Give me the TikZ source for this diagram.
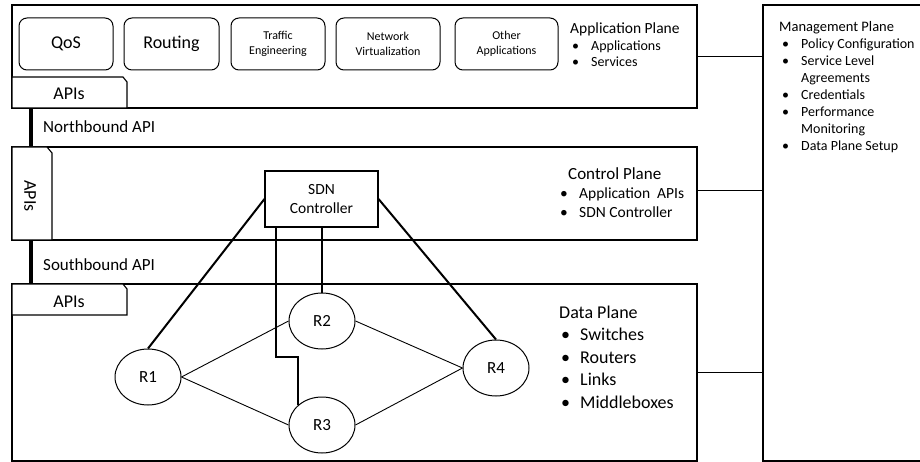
\documentclass[tikz,border=0pt]{standalone}
\usepackage{fontspec}
\setmainfont{Carlito}
\usetikzlibrary{calc}
\tikzset{
  plane/.style={draw, line width=1.3pt, inner sep=0pt, outer sep=0pt, anchor=north west, fill=white},
  appbox/.style={draw, line width=1pt, rounded corners=8pt, inner sep=0pt, minimum height=52pt, align=center},
  tabshape/.style={draw, line width=1.1pt, fill=white},
  router/.style={draw, ellipse, line width=1pt, minimum width=66pt, minimum height=56pt, inner sep=0pt, font=\fontsize{17}{19}\selectfont},
  thinlink/.style={line width=0.9pt},
  ctrllink/.style={line width=2pt},
  bar/.style={line width=4.2pt},
  mgmtlink/.style={line width=1pt},
  lbl/.style={anchor=base west, inner sep=0pt},
}
\usetikzlibrary{shapes.geometric}
\begin{document}
\begin{tikzpicture}[x=1pt,y=-1pt]
\useasboundingbox (0,0) rectangle (920,462);
\clip (0,0) rectangle (920,462);
% planes
\node[plane, minimum width=685pt, minimum height=103pt] (app) at (12,5) {};
\node[plane, minimum width=685pt, minimum height=93pt] (ctrl) at (12,147) {};
\node[plane, minimum width=685pt, minimum height=177pt] (data) at (12,284) {};
\node[plane, minimum width=170pt, minimum height=456pt] (mgmt) at (763,5) {};

% app boxes
\node[appbox, minimum width=94pt, font=\fontsize{18}{20}\selectfont] (qos) at (66,44) {QoS};
\node[appbox, minimum width=95pt, font=\fontsize{18}{20}\selectfont] (routing) at (171.5,44) {Routing};
\node[appbox, minimum width=94pt, font=\fontsize{12}{15}\selectfont] (te) at (278,44) {Traffic\\Engineering};
\node[appbox, minimum width=104pt, font=\fontsize{12}{15}\selectfont] (nv) at (388,44) {Network\\Virtualization};
\node[appbox, minimum width=103pt, font=\fontsize{12}{15}\selectfont] (other) at (506.5,44) {Other\\Applications};

% application plane text
\node[lbl, font=\fontsize{15.5}{17}\selectfont] (apptitle) at (570,34) {Application Plane};
\node[lbl, font=\fontsize{14}{17}\selectfont] (appb1) at (572,51) {•};
\node[lbl, font=\fontsize{14}{17}\selectfont] (appt1) at (591,51) {Applications};
\node[lbl, font=\fontsize{14}{17}\selectfont] (appb2) at (572,67) {•};
\node[lbl, font=\fontsize{14}{17}\selectfont] (appt2) at (591,67) {Services};

% top APIs tab
\draw[tabshape] (12,108) -- (12,77) -- (123,77) -- (127,82) -- (127,108) -- cycle;
\node[font=\fontsize{18}{20}\selectfont, anchor=base, inner sep=0pt] (apitop) at (69,100) {APIs};

% northbound
\draw[bar] ([xshift=19pt]app.south west) -- ([xshift=19pt]ctrl.north west);
\node[lbl, font=\fontsize{17}{19}\selectfont] (nb) at (43,133) {Northbound API};

% vertical APIs tab
\draw[tabshape] (12,147) -- (47,147) -- (52,153) -- (52,240) -- (12,240) -- cycle;
\node[font=\fontsize{18}{20}\selectfont, rotate=-90, inner sep=0pt] (apimid) at (30,196) {APIs};

% SDN controller
\node[draw, line width=1.1pt, minimum width=113pt, minimum height=56pt, inner sep=0pt, align=center, font=\fontsize{15.5}{19}\selectfont] (sdn) at (321.5,199) {SDN\\Controller};

% control plane text
\node[lbl, font=\fontsize{17}{19}\selectfont] (ctrltitle) at (568,180) {Control Plane};
\node[lbl, font=\fontsize{15.5}{19}\selectfont] (ctrlb1) at (560,199) {•};
\node[lbl, font=\fontsize{15.5}{19}\selectfont] (ctrlt1) at (579,199) {Application\ \ APIs};
\node[lbl, font=\fontsize{15.5}{19}\selectfont] (ctrlb2) at (560,218) {•};
\node[lbl, font=\fontsize{15.5}{19}\selectfont] (ctrlt2) at (579,218) {SDN Controller};

% southbound
\draw[bar] ([xshift=19pt]ctrl.south west) -- ([xshift=19pt]data.north west);
\node[lbl, font=\fontsize{17}{19}\selectfont] (sb) at (43,270) {Southbound API};

% bottom APIs tab
\draw[tabshape] (12,315) -- (12,284) -- (123,284) -- (127,289) -- (127,315) -- cycle;
\node[font=\fontsize{18}{20}\selectfont, anchor=base, inner sep=0pt] (apibot) at (69,307) {APIs};

% routers
\node[router] (R1) at (148,377) {R1};
\node[router] (R2) at (322,321) {R2};
\node[router] (R3) at (322,425) {R3};
\node[router] (R4) at (496,368) {R4};

\draw[thinlink] (R1.east) -- (R2.west);
\draw[thinlink] (R1.east) -- (R3.west);
\draw[thinlink] (R2.east) -- (R4.west);
\draw[thinlink] (R3.east) -- (R4.west);

\draw[ctrllink] (sdn.west) -- (R1.north);
\draw[ctrllink] (sdn.east) -- (R4.north);
\draw[ctrllink] (sdn.south -| R2.north) -- (R2.north);
\draw[ctrllink] ([xshift=12pt]sdn.south west) -- ++(0,129) -| (R3.north west);

% data plane text
\node[lbl, font=\fontsize{18}{22}\selectfont] (datatitle) at (559,318) {Data Plane};
\node[lbl, font=\fontsize{18}{22}\selectfont] (datab1) at (561,340) {•};
\node[lbl, font=\fontsize{18}{22}\selectfont] (datat1) at (580,340) {Switches};
\node[lbl, font=\fontsize{18}{22}\selectfont] (datab2) at (561,363) {•};
\node[lbl, font=\fontsize{18}{22}\selectfont] (datat2) at (580,363) {Routers};
\node[lbl, font=\fontsize{18}{22}\selectfont] (datab3) at (561,385) {•};
\node[lbl, font=\fontsize{18}{22}\selectfont] (datat3) at (580,385) {Links};
\node[lbl, font=\fontsize{18}{22}\selectfont] (datab4) at (561,408) {•};
\node[lbl, font=\fontsize{18}{22}\selectfont] (datat4) at (580,408) {Middleboxes};

% management links
\draw[mgmtlink] (app.east) -- (app.east -| mgmt.west);
\draw[mgmtlink] ([yshift=3pt]ctrl.east) -- ([yshift=3pt]ctrl.east -| mgmt.west);
\draw[mgmtlink] (data.east) -- (data.east -| mgmt.west);

% management text
\node[lbl, font=\fontsize{14.5}{17}\selectfont] (mgtitle) at (779,32) {Management Plane};
\node[lbl, font=\fontsize{14}{17}\selectfont] (mgb1) at (782,49) {•};
\node[lbl, font=\fontsize{14}{17}\selectfont] (mgt1) at (801,49) {Policy Configuration};
\node[lbl, font=\fontsize{14}{17}\selectfont] (mgb2) at (782,66) {•};
\node[lbl, font=\fontsize{14}{17}\selectfont] (mgt2) at (801,66) {Service Level};
\node[lbl, font=\fontsize{14}{17}\selectfont] (mgt2b) at (801,83) {Agreements};
\node[lbl, font=\fontsize{14}{17}\selectfont] (mgb3) at (782,100) {•};
\node[lbl, font=\fontsize{14}{17}\selectfont] (mgt3) at (801,100) {Credentials};
\node[lbl, font=\fontsize{14}{17}\selectfont] (mgb4) at (782,117) {•};
\node[lbl, font=\fontsize{14}{17}\selectfont] (mgt4) at (801,117) {Performance};
\node[lbl, font=\fontsize{14}{17}\selectfont] (mgt4b) at (801,134) {Monitoring};
\node[lbl, font=\fontsize{14}{17}\selectfont] (mgb5) at (782,151) {•};
\node[lbl, font=\fontsize{14}{17}\selectfont] (mgt5) at (801,151) {Data Plane Setup};
\end{tikzpicture}
\end{document}
